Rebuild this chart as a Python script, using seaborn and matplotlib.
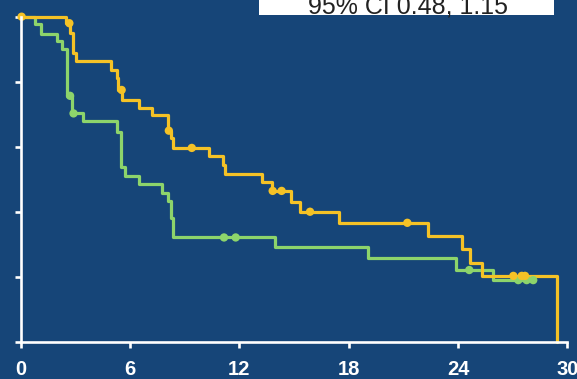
import numpy as np
import pandas as pd
import matplotlib
matplotlib.use("Agg")
import matplotlib.pyplot as plt
import seaborn as sns

# Kaplan-Meier step data (months, survival probability)
arm_a_times = [0, 2.49, 2.71, 2.85, 3.04, 4.93, 5.27, 5.36, 5.58, 6.52, 7.21,
               8.10, 8.27, 8.35, 10.32, 11.12, 11.24, 13.24, 13.80, 14.84,
               15.33, 17.47, 22.37, 24.20, 24.66, 25.30, 29.42]
arm_a_surv = [1.0, 0.980, 0.950, 0.888, 0.864, 0.836, 0.811, 0.775, 0.743,
              0.721, 0.697, 0.650, 0.627, 0.597, 0.572, 0.546, 0.516, 0.493,
              0.465, 0.431, 0.401, 0.367, 0.326, 0.286, 0.243, 0.204, 0.0]
arm_a_censored = [0.05, 2.67, 5.54, 8.13, 9.39, 13.83, 14.32, 15.88, 21.22,
                  27.04, 27.50, 27.68]

arm_b_times = [0, 0.78, 1.14, 1.99, 2.28, 2.52, 2.80, 3.41, 5.27, 5.52, 5.72,
               6.51, 7.76, 8.10, 8.23, 8.34, 13.93, 19.04, 23.91, 25.94]
arm_b_surv = [1.0, 0.979, 0.948, 0.925, 0.902, 0.757, 0.703, 0.680, 0.647,
              0.537, 0.511, 0.486, 0.458, 0.434, 0.381, 0.322, 0.293, 0.260,
              0.222, 0.191]
arm_b_censored = [2.71, 2.90, 11.16, 11.80, 24.62, 27.31, 27.77, 28.13]

x_ticks = [0, 6, 12, 18, 24, 30]
y_ticks = [0, 0.2, 0.4, 0.6, 0.8, 1.0]
ci_label = "95% CI 0.48, 1.15"

BG = "#164578"
GOLD = "#f5c226"
GREEN = "#8dd46b"

sns.set_style("white", rc={"axes.facecolor": BG, "figure.facecolor": BG})
plt.rcParams["font.family"] = ["Liberation Sans", "DejaVu Sans"]


def step_frame(times, surv, end=None):
    t = list(times)
    s = list(surv)
    if end is not None and end > t[-1]:
        t.append(end)
        s.append(s[-1])
    return pd.DataFrame({"t": t, "s": s})


def censor_frame(times, surv, cens):
    times = np.asarray(times)
    surv = np.asarray(surv)
    idx = np.searchsorted(times, cens, side="right") - 1
    return pd.DataFrame({"t": cens, "s": surv[idx]})


fig = plt.figure(figsize=(5.77, 3.79), dpi=100)
ax = fig.add_axes([20.7 / 577, 36.7 / 379, (567.3 - 20.7) / 577, (362.3 - 36.7) / 379])

lw = 2.3
for times, surv, cens, col in [
    (arm_b_times, arm_b_surv, arm_b_censored, GREEN),
    (arm_a_times, arm_a_surv, arm_a_censored, GOLD),
]:
    df = step_frame(times, surv, end=max(cens))
    sns.lineplot(data=df, x="t", y="s", ax=ax, color=col, lw=lw,
                 drawstyle="steps-post", estimator=None, sort=False,
                 clip_on=False, zorder=3)
    cdf = censor_frame(times, surv, cens)
    sns.scatterplot(data=cdf, x="t", y="s", ax=ax, color=col, s=36,
                    edgecolor="none", clip_on=False, zorder=4)

ax.set_xlim(0, 30)
ax.set_ylim(0, 1.0)
ax.set_xticks(x_ticks)
ax.set_xticklabels([str(v) for v in x_ticks])
ax.set_yticks(y_ticks)
ax.set_yticklabels([])
ax.set_xlabel("")
ax.set_ylabel("")

for side in ["top", "right"]:
    ax.spines[side].set_visible(False)
for side in ["left", "bottom"]:
    ax.spines[side].set_color("white")
    ax.spines[side].set_linewidth(1.9)
    ax.spines[side].set_zorder(5)

ax.tick_params(axis="both", colors="white", width=1.9, length=4.5,
               direction="out", bottom=True, left=True)
ax.tick_params(axis="x", pad=8, labelsize=14.5)
for lab in ax.get_xticklabels():
    lab.set_fontweight("bold")
    lab.set_color("white")

# Header box with the confidence interval
box_l, box_r, box_h = 259 / 577, 554.3 / 577, 15 / 379
fig.patches.append(plt.Rectangle((box_l, 1 - box_h), box_r - box_l, box_h + 0.05,
                                 transform=fig.transFigure, facecolor="white",
                                 edgecolor="none", zorder=10))
fig.text(407.5 / 577, 1 - 13.3 / 379, ci_label, ha="center", va="baseline",
         fontsize=18, color="#222222", zorder=11,
         family=["Liberation Sans Narrow", "Liberation Sans", "DejaVu Sans"])

fig.savefig("out.png", dpi=100, facecolor=BG)
